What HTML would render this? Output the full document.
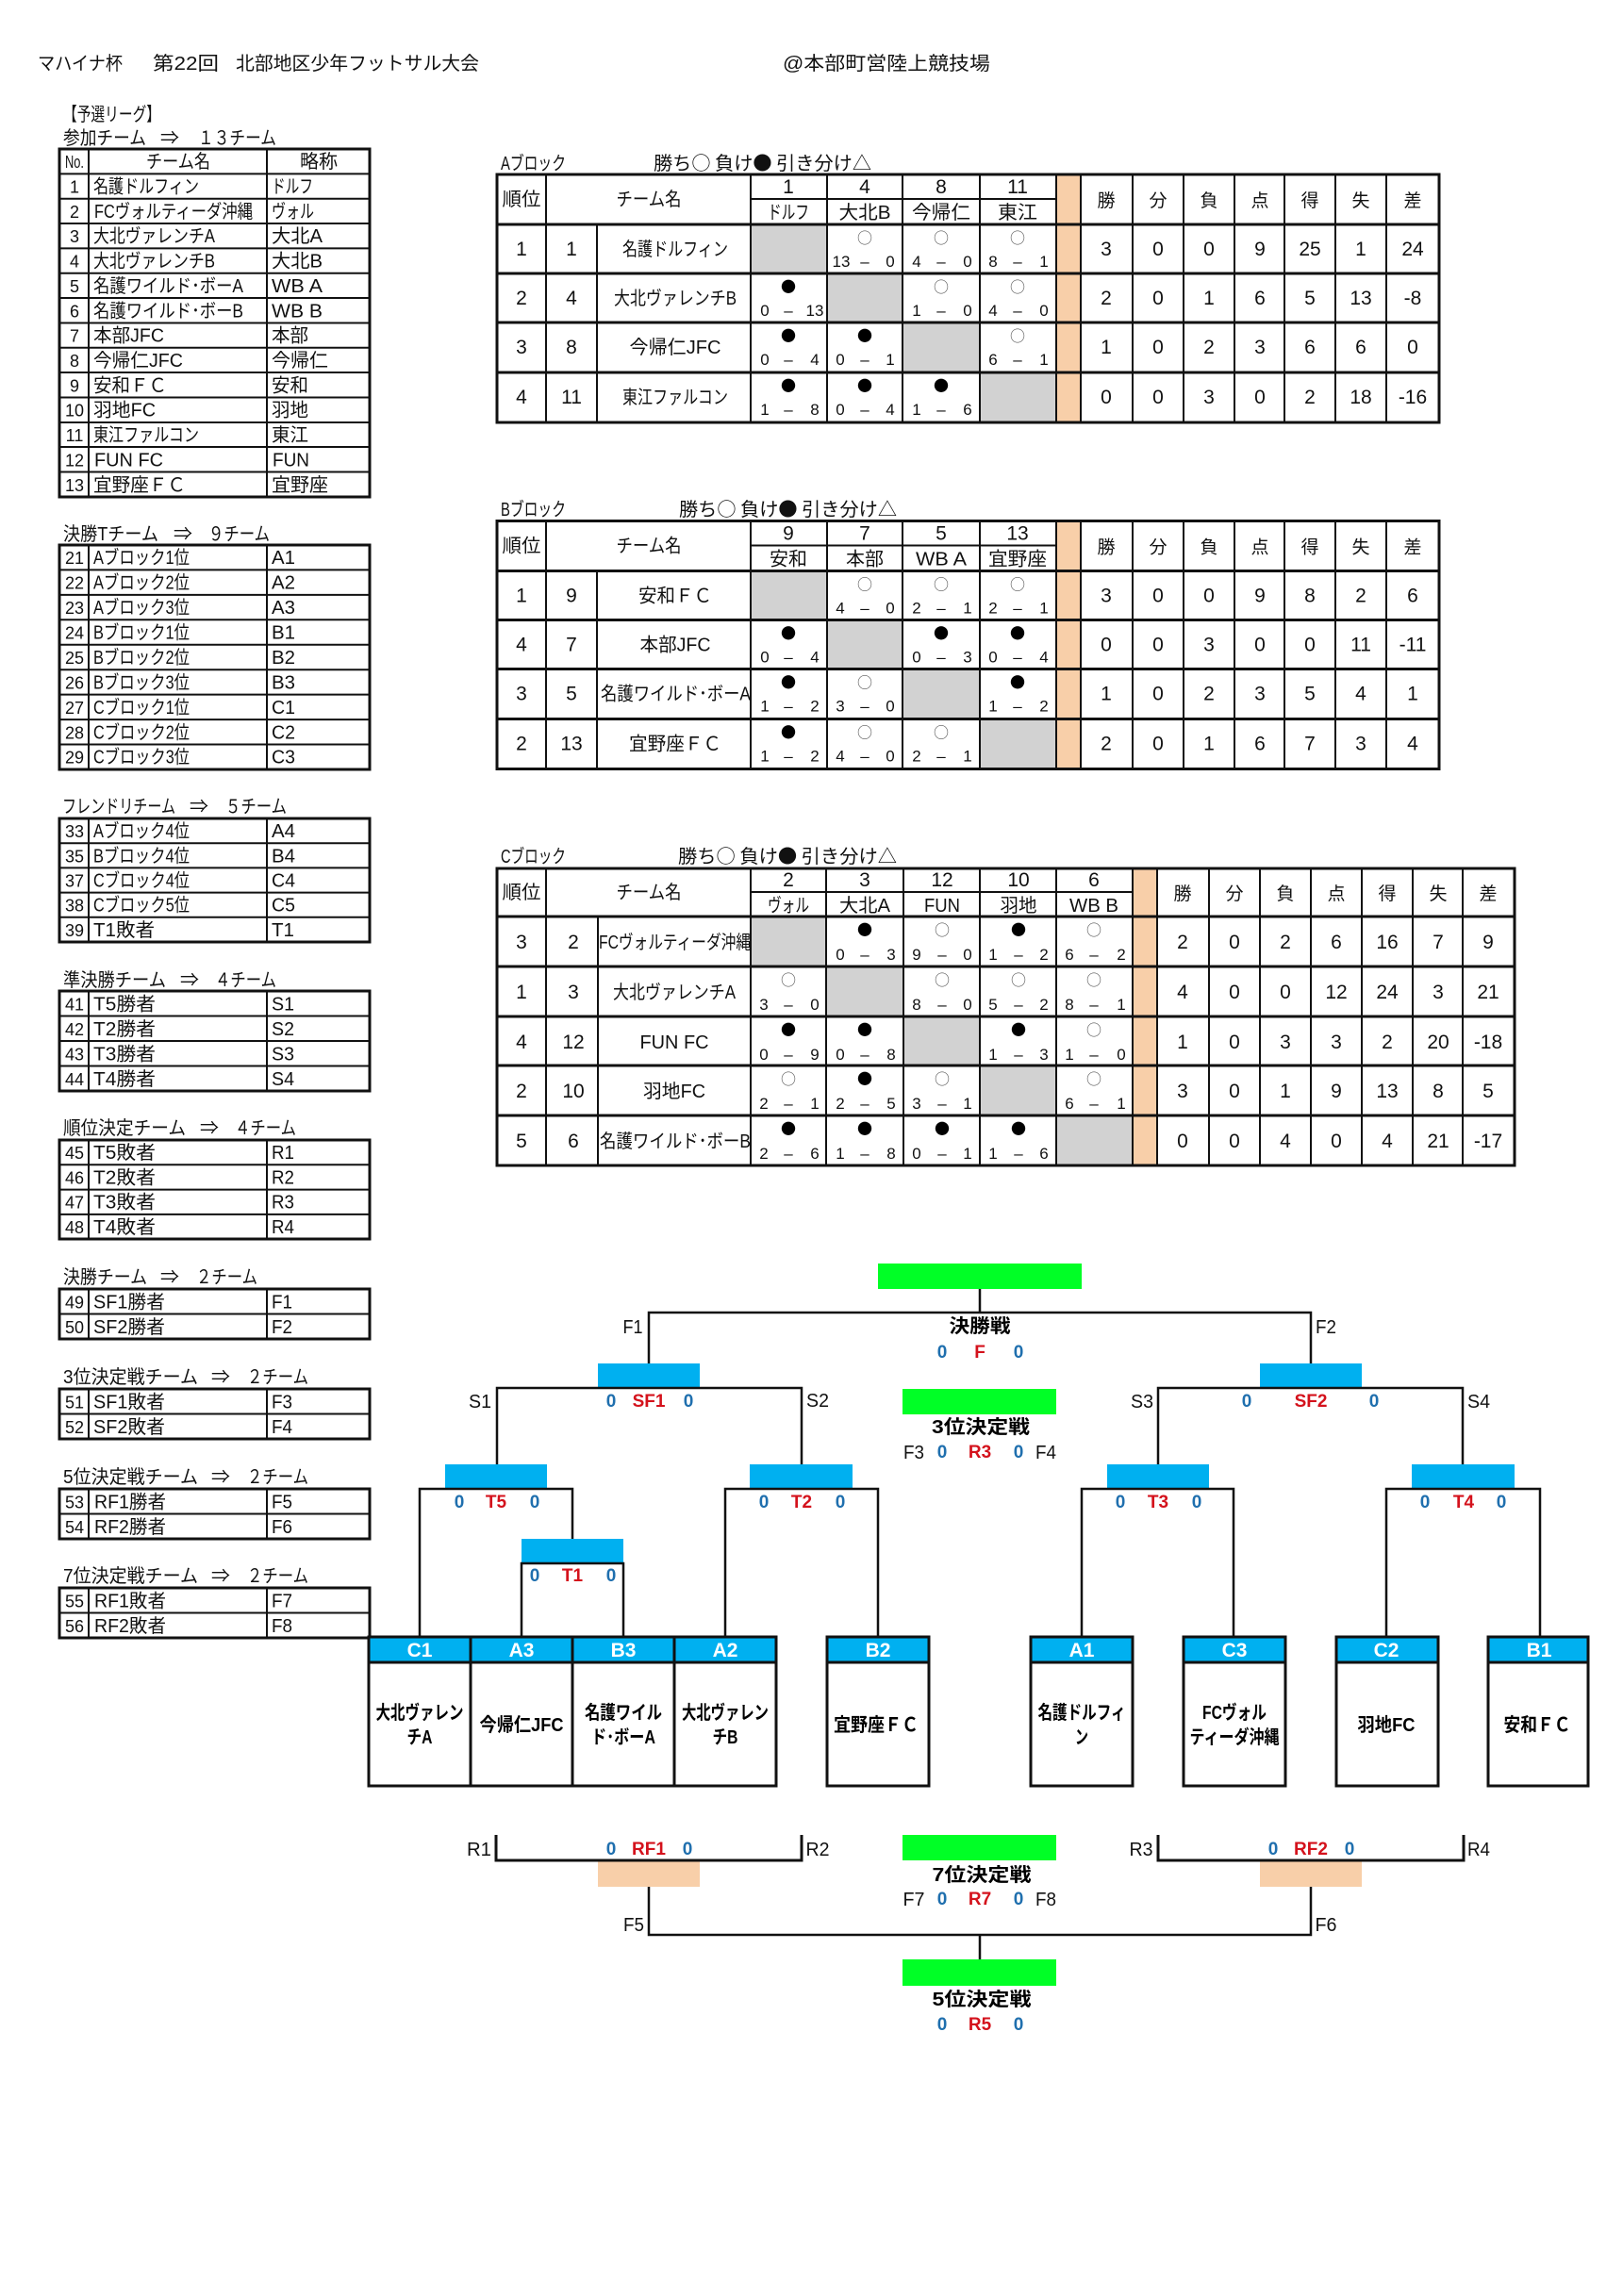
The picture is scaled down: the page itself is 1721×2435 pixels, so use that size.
<!DOCTYPE html>
<html lang="ja"><head><meta charset="utf-8"><title>マハイナ杯</title>
<style>
html,body{margin:0;padding:0;background:#fff}
svg{display:block}
text{font-family:"Liberation Sans","Noto Sans CJK JP",sans-serif;fill:#111;font-size:20px}
.c{text-anchor:middle}
.n{text-anchor:middle;font-size:18px}
.d{text-anchor:middle;font-size:21px}
.s{text-anchor:middle;font-size:17px}
.w{text-anchor:middle;font-size:16px;fill:#555;font-family:"Noto Sans CJK JP",sans-serif}
.l{text-anchor:middle;font-size:16px;fill:#000;font-family:"Noto Sans CJK JP",sans-serif}
.k{font-family:"Noto Sans CJK JP",sans-serif}
.h{text-anchor:middle;font-size:19px}
.z{text-anchor:middle;font-size:19px;font-weight:bold;fill:#1f6fae}
.r{text-anchor:middle;font-size:19px;font-weight:bold;fill:#d4121c}
.j{text-anchor:middle;font-size:20px;font-weight:bold;fill:#000}
.e{text-anchor:middle;font-size:21px;font-weight:bold;fill:#fff}
.o{fill:none;stroke:#111;stroke-width:3}
.i{fill:none;stroke:#111;stroke-width:2}
</style></head><body>
<svg xmlns="http://www.w3.org/2000/svg" width="1721" height="2435" viewBox="0 0 1721 2435">
<rect width="1721" height="2435" fill="#fff"/>

<!-- title -->
<text x="40" y="74" textLength="90" lengthAdjust="spacingAndGlyphs">マハイナ杯</text>
<text x="162" y="74" textLength="70" lengthAdjust="spacingAndGlyphs">第22回</text>
<text x="250" y="74" textLength="258" lengthAdjust="spacingAndGlyphs">北部地区少年フットサル大会</text>
<text x="830" y="74" textLength="220" lengthAdjust="spacingAndGlyphs">@本部町営陸上競技場</text>
<text x="67" y="128" textLength="103" lengthAdjust="spacingAndGlyphs">【予選リーグ】</text>

<!-- left table labels -->
<text x="67" y="153" textLength="88" lengthAdjust="spacingAndGlyphs">参加チーム</text><text x="170" y="153" textLength="20" lengthAdjust="spacingAndGlyphs">⇒</text><text x="210" y="153" textLength="83" lengthAdjust="spacingAndGlyphs">１３チーム</text>
<text x="67" y="573" textLength="101" lengthAdjust="spacingAndGlyphs">決勝Tチーム</text><text x="184" y="573" textLength="20" lengthAdjust="spacingAndGlyphs">⇒</text><text x="221" y="573" textLength="65" lengthAdjust="spacingAndGlyphs">９チーム</text>
<text x="66" y="862" textLength="120" lengthAdjust="spacingAndGlyphs">フレンドリチーム</text><text x="201" y="862" textLength="20" lengthAdjust="spacingAndGlyphs">⇒</text><text x="239" y="862" textLength="65" lengthAdjust="spacingAndGlyphs">５チーム</text>
<text x="67" y="1046" textLength="109" lengthAdjust="spacingAndGlyphs">準決勝チーム</text><text x="191" y="1046" textLength="20" lengthAdjust="spacingAndGlyphs">⇒</text><text x="228" y="1046" textLength="65" lengthAdjust="spacingAndGlyphs">４チーム</text>
<text x="67" y="1203" textLength="130" lengthAdjust="spacingAndGlyphs">順位決定チーム</text><text x="212" y="1203" textLength="20" lengthAdjust="spacingAndGlyphs">⇒</text><text x="249" y="1203" textLength="65" lengthAdjust="spacingAndGlyphs">４チーム</text>
<text x="67" y="1361" textLength="89" lengthAdjust="spacingAndGlyphs">決勝チーム</text><text x="170" y="1361" textLength="20" lengthAdjust="spacingAndGlyphs">⇒</text><text x="208" y="1361" textLength="65" lengthAdjust="spacingAndGlyphs">２チーム</text>
<text x="67" y="1467" textLength="143" lengthAdjust="spacingAndGlyphs">3位決定戦チーム</text><text x="224" y="1467" textLength="20" lengthAdjust="spacingAndGlyphs">⇒</text><text x="262" y="1467" textLength="65" lengthAdjust="spacingAndGlyphs">２チーム</text>
<text x="67" y="1573" textLength="143" lengthAdjust="spacingAndGlyphs">5位決定戦チーム</text><text x="224" y="1573" textLength="20" lengthAdjust="spacingAndGlyphs">⇒</text><text x="262" y="1573" textLength="65" lengthAdjust="spacingAndGlyphs">２チーム</text>
<text x="67" y="1678" textLength="143" lengthAdjust="spacingAndGlyphs">7位決定戦チーム</text><text x="224" y="1678" textLength="20" lengthAdjust="spacingAndGlyphs">⇒</text><text x="262" y="1678" textLength="65" lengthAdjust="spacingAndGlyphs">２チーム</text>

<!-- left table frames -->
<rect class="o" x="63" y="158" width="329" height="369"/>
<path class="i" d="M94 158V527M283 158V527M63 184.4H392M63 210.7H392M63 237H392M63 263.4H392M63 289.8H392M63 316H392M63 342.5H392M63 368.8H392M63 395H392M63 421.5H392M63 448H392M63 474H392M63 500.5H392"/>
<rect class="o" x="63" y="578" width="329" height="238"/>
<path class="i" d="M94 578V816M283 578V816M63 604.4H392M63 630.9H392M63 657.3H392M63 683.8H392M63 710.2H392M63 736.6H392M63 763.1H392M63 789.5H392"/>
<rect class="o" x="63" y="868" width="329" height="131"/>
<path class="i" d="M94 868V999M283 868V999M63 894.2H392M63 920.4H392M63 946.6H392M63 972.8H392"/>
<rect class="o" x="63" y="1051" width="329" height="106"/>
<path class="i" d="M94 1051V1157M283 1051V1157M63 1077.5H392M63 1104H392M63 1130.5H392"/>
<rect class="o" x="63" y="1209" width="329" height="105"/>
<path class="i" d="M94 1209V1314M283 1209V1314M63 1235.3H392M63 1261.6H392M63 1287.9H392"/>
<rect class="o" x="63" y="1367" width="329" height="53"/><path class="i" d="M94 1367V1420M283 1367V1420M63 1393.5H392"/>
<rect class="o" x="63" y="1473" width="329" height="53"/><path class="i" d="M94 1473V1526M283 1473V1526M63 1499.5H392"/>
<rect class="o" x="63" y="1579" width="329" height="53"/><path class="i" d="M94 1579V1632M283 1579V1632M63 1605.5H392"/>
<rect class="o" x="63" y="1684" width="329" height="53"/><path class="i" d="M94 1684V1737M283 1684V1737M63 1710.5H392"/>

<!-- table 1 -->
<text class="n" x="79" y="178" textLength="20" lengthAdjust="spacingAndGlyphs">No.</text><text class="c" x="189" y="178" textLength="68" lengthAdjust="spacingAndGlyphs">チーム名</text><text class="c" x="338" y="178" textLength="40" lengthAdjust="spacingAndGlyphs">略称</text>
<text class="n" x="79" y="204.5">1</text><text x="99" y="204.5" textLength="112" lengthAdjust="spacingAndGlyphs">名護ドルフィン</text><text x="288" y="204.5" textLength="44" lengthAdjust="spacingAndGlyphs">ドルフ</text>
<text class="n" x="79" y="230.9">2</text><text x="100" y="230.9" textLength="168" lengthAdjust="spacingAndGlyphs">FCヴォルティーダ沖縄</text><text x="288" y="230.9" textLength="45" lengthAdjust="spacingAndGlyphs">ヴォル</text>
<text class="n" x="79" y="257.2">3</text><text x="99" y="257.2" textLength="129" lengthAdjust="spacingAndGlyphs">大北ヴァレンチA</text><text x="288" y="257.2" textLength="54" lengthAdjust="spacingAndGlyphs">大北A</text>
<text class="n" x="79" y="283.6">4</text><text x="99" y="283.6" textLength="129" lengthAdjust="spacingAndGlyphs">大北ヴァレンチB</text><text x="288" y="283.6" textLength="54" lengthAdjust="spacingAndGlyphs">大北B</text>
<text class="n" x="79" y="309.9">5</text><text x="99" y="309.9" textLength="159" lengthAdjust="spacingAndGlyphs">名護ワイルド･ボーA</text><text x="288" y="309.9" textLength="54" lengthAdjust="spacingAndGlyphs">WB A</text>
<text class="n" x="79" y="336.3">6</text><text x="99" y="336.3" textLength="159" lengthAdjust="spacingAndGlyphs">名護ワイルド･ボーB</text><text x="288" y="336.3" textLength="54" lengthAdjust="spacingAndGlyphs">WB B</text>
<text class="n" x="79" y="362.7">7</text><text x="99" y="362.7" textLength="75" lengthAdjust="spacingAndGlyphs">本部JFC</text><text x="288" y="362.7" textLength="39" lengthAdjust="spacingAndGlyphs">本部</text>
<text class="n" x="79" y="389">8</text><text x="99" y="389" textLength="95" lengthAdjust="spacingAndGlyphs">今帰仁JFC</text><text x="288" y="389" textLength="60" lengthAdjust="spacingAndGlyphs">今帰仁</text>
<text class="n" x="79" y="415.4">9</text><text x="99" y="415.4" textLength="78" lengthAdjust="spacingAndGlyphs">安和ＦＣ</text><text x="288" y="415.4" textLength="39" lengthAdjust="spacingAndGlyphs">安和</text>
<text class="n" x="79" y="441.7">10</text><text x="99" y="441.7" textLength="66" lengthAdjust="spacingAndGlyphs">羽地FC</text><text x="288" y="441.7" textLength="39" lengthAdjust="spacingAndGlyphs">羽地</text>
<text class="n" x="79" y="468.1">11</text><text x="99" y="468.1" textLength="112" lengthAdjust="spacingAndGlyphs">東江ファルコン</text><text x="288" y="468.1" textLength="39" lengthAdjust="spacingAndGlyphs">東江</text>
<text class="n" x="79" y="494.5">12</text><text x="100" y="494.5" textLength="73" lengthAdjust="spacingAndGlyphs">FUN FC</text><text x="289" y="494.5" textLength="39" lengthAdjust="spacingAndGlyphs">FUN</text>
<text class="n" x="79" y="520.8">13</text><text x="99" y="520.8" textLength="98" lengthAdjust="spacingAndGlyphs">宜野座ＦＣ</text><text x="288" y="520.8" textLength="60" lengthAdjust="spacingAndGlyphs">宜野座</text>

<!-- table 2 -->
<text class="n" x="79" y="598.2">21</text><text x="99" y="598.2" textLength="102" lengthAdjust="spacingAndGlyphs">Aブロック1位</text><text x="288" y="598.2" textLength="25" lengthAdjust="spacingAndGlyphs">A1</text>
<text class="n" x="79" y="624.6">22</text><text x="99" y="624.6" textLength="102" lengthAdjust="spacingAndGlyphs">Aブロック2位</text><text x="288" y="624.6" textLength="25" lengthAdjust="spacingAndGlyphs">A2</text>
<text class="n" x="79" y="651.1">23</text><text x="99" y="651.1" textLength="102" lengthAdjust="spacingAndGlyphs">Aブロック3位</text><text x="288" y="651.1" textLength="25" lengthAdjust="spacingAndGlyphs">A3</text>
<text class="n" x="79" y="677.5">24</text><text x="99" y="677.5" textLength="102" lengthAdjust="spacingAndGlyphs">Bブロック1位</text><text x="288" y="677.5" textLength="25" lengthAdjust="spacingAndGlyphs">B1</text>
<text class="n" x="79" y="704">25</text><text x="99" y="704" textLength="102" lengthAdjust="spacingAndGlyphs">Bブロック2位</text><text x="288" y="704" textLength="25" lengthAdjust="spacingAndGlyphs">B2</text>
<text class="n" x="79" y="730.4">26</text><text x="99" y="730.4" textLength="102" lengthAdjust="spacingAndGlyphs">Bブロック3位</text><text x="288" y="730.4" textLength="25" lengthAdjust="spacingAndGlyphs">B3</text>
<text class="n" x="79" y="756.8">27</text><text x="99" y="756.8" textLength="102" lengthAdjust="spacingAndGlyphs">Cブロック1位</text><text x="288" y="756.8" textLength="25" lengthAdjust="spacingAndGlyphs">C1</text>
<text class="n" x="79" y="783.3">28</text><text x="99" y="783.3" textLength="102" lengthAdjust="spacingAndGlyphs">Cブロック2位</text><text x="288" y="783.3" textLength="25" lengthAdjust="spacingAndGlyphs">C2</text>
<text class="n" x="79" y="809.7">29</text><text x="99" y="809.7" textLength="102" lengthAdjust="spacingAndGlyphs">Cブロック3位</text><text x="288" y="809.7" textLength="25" lengthAdjust="spacingAndGlyphs">C3</text>

<!-- table 3 -->
<text class="n" x="79" y="888.1">33</text><text x="99" y="888.1" textLength="102" lengthAdjust="spacingAndGlyphs">Aブロック4位</text><text x="288" y="888.1" textLength="25" lengthAdjust="spacingAndGlyphs">A4</text>
<text class="n" x="79" y="914.3">35</text><text x="99" y="914.3" textLength="102" lengthAdjust="spacingAndGlyphs">Bブロック4位</text><text x="288" y="914.3" textLength="25" lengthAdjust="spacingAndGlyphs">B4</text>
<text class="n" x="79" y="940.5">37</text><text x="99" y="940.5" textLength="102" lengthAdjust="spacingAndGlyphs">Cブロック4位</text><text x="288" y="940.5" textLength="25" lengthAdjust="spacingAndGlyphs">C4</text>
<text class="n" x="79" y="966.7">38</text><text x="99" y="966.7" textLength="102" lengthAdjust="spacingAndGlyphs">Cブロック5位</text><text x="288" y="966.7" textLength="25" lengthAdjust="spacingAndGlyphs">C5</text>
<text class="n" x="79" y="992.9">39</text><text x="99" y="992.9" textLength="65" lengthAdjust="spacingAndGlyphs">T1敗者</text><text x="288" y="992.9" textLength="24" lengthAdjust="spacingAndGlyphs">T1</text>

<!-- table 4-9 -->
<text class="n" x="79" y="1071.3">41</text><text x="99" y="1071.3" textLength="66" lengthAdjust="spacingAndGlyphs">T5勝者</text><text x="288" y="1071.3" textLength="24" lengthAdjust="spacingAndGlyphs">S1</text>
<text class="n" x="79" y="1097.8">42</text><text x="99" y="1097.8" textLength="66" lengthAdjust="spacingAndGlyphs">T2勝者</text><text x="288" y="1097.8" textLength="24" lengthAdjust="spacingAndGlyphs">S2</text>
<text class="n" x="79" y="1124.3">43</text><text x="99" y="1124.3" textLength="66" lengthAdjust="spacingAndGlyphs">T3勝者</text><text x="288" y="1124.3" textLength="24" lengthAdjust="spacingAndGlyphs">S3</text>
<text class="n" x="79" y="1150.8">44</text><text x="99" y="1150.8" textLength="66" lengthAdjust="spacingAndGlyphs">T4勝者</text><text x="288" y="1150.8" textLength="24" lengthAdjust="spacingAndGlyphs">S4</text>
<text class="n" x="79" y="1229.1">45</text><text x="99" y="1229.1" textLength="66" lengthAdjust="spacingAndGlyphs">T5敗者</text><text x="288" y="1229.1" textLength="24" lengthAdjust="spacingAndGlyphs">R1</text>
<text class="n" x="79" y="1255.4">46</text><text x="99" y="1255.4" textLength="66" lengthAdjust="spacingAndGlyphs">T2敗者</text><text x="288" y="1255.4" textLength="24" lengthAdjust="spacingAndGlyphs">R2</text>
<text class="n" x="79" y="1281.7">47</text><text x="99" y="1281.7" textLength="66" lengthAdjust="spacingAndGlyphs">T3敗者</text><text x="288" y="1281.7" textLength="24" lengthAdjust="spacingAndGlyphs">R3</text>
<text class="n" x="79" y="1308">48</text><text x="99" y="1308" textLength="66" lengthAdjust="spacingAndGlyphs">T4敗者</text><text x="288" y="1308" textLength="24" lengthAdjust="spacingAndGlyphs">R4</text>
<text class="n" x="79" y="1387.3">49</text><text x="99" y="1387.3" textLength="76" lengthAdjust="spacingAndGlyphs">SF1勝者</text><text x="288" y="1387.3" textLength="22" lengthAdjust="spacingAndGlyphs">F1</text>
<text class="n" x="79" y="1413.8">50</text><text x="99" y="1413.8" textLength="76" lengthAdjust="spacingAndGlyphs">SF2勝者</text><text x="288" y="1413.8" textLength="22" lengthAdjust="spacingAndGlyphs">F2</text>
<text class="n" x="79" y="1493.3">51</text><text x="99" y="1493.3" textLength="76" lengthAdjust="spacingAndGlyphs">SF1敗者</text><text x="288" y="1493.3" textLength="22" lengthAdjust="spacingAndGlyphs">F3</text>
<text class="n" x="79" y="1519.8">52</text><text x="99" y="1519.8" textLength="76" lengthAdjust="spacingAndGlyphs">SF2敗者</text><text x="288" y="1519.8" textLength="22" lengthAdjust="spacingAndGlyphs">F4</text>
<text class="n" x="79" y="1599.3">53</text><text x="100" y="1599.3" textLength="76" lengthAdjust="spacingAndGlyphs">RF1勝者</text><text x="288" y="1599.3" textLength="22" lengthAdjust="spacingAndGlyphs">F5</text>
<text class="n" x="79" y="1625.8">54</text><text x="100" y="1625.8" textLength="76" lengthAdjust="spacingAndGlyphs">RF2勝者</text><text x="288" y="1625.8" textLength="22" lengthAdjust="spacingAndGlyphs">F6</text>
<text class="n" x="79" y="1704.3">55</text><text x="100" y="1704.3" textLength="76" lengthAdjust="spacingAndGlyphs">RF1敗者</text><text x="288" y="1704.3" textLength="22" lengthAdjust="spacingAndGlyphs">F7</text>
<text class="n" x="79" y="1730.8">56</text><text x="100" y="1730.8" textLength="76" lengthAdjust="spacingAndGlyphs">RF2敗者</text><text x="288" y="1730.8" textLength="22" lengthAdjust="spacingAndGlyphs">F8</text>

<!-- BLOCK A -->
<text x="531" y="180" textLength="69" lengthAdjust="spacingAndGlyphs">Aブロック</text>
<text class="k" x="693" y="180" textLength="231" lengthAdjust="spacingAndGlyphs">勝ち○ 負け● 引き分け△</text>
<rect x="1120" y="185" width="26" height="263" fill="#f8cfa9"/>
<rect x="796" y="238" width="81" height="52" fill="#d2d2d2"/><rect x="877" y="290" width="80" height="52" fill="#d2d2d2"/><rect x="957" y="342" width="82" height="53" fill="#d2d2d2"/><rect x="1039" y="395" width="81" height="53" fill="#d2d2d2"/>
<rect class="o" x="527" y="185" width="999" height="263"/>
<path class="i" d="M579 185V448M796 185V448M877 185V448M957 185V448M1039 185V448M1120 185V448M1146 185V448M1201 185V448M1255 185V448M1309 185V448M1362 185V448M1416 185V448M1470 185V448M633 238V448M796 211H1120"/>
<path class="o" d="M527 238H1526M527 290H1526M527 342H1526M527 395H1526" stroke-width="2.5"/>
<text class="c" x="553" y="218" textLength="41" lengthAdjust="spacingAndGlyphs">順位</text><text class="c" x="688" y="218" textLength="69" lengthAdjust="spacingAndGlyphs">チーム名</text>
<text class="h" x="1173" y="219">勝</text><text class="h" x="1228" y="219">分</text><text class="h" x="1282" y="219">負</text><text class="h" x="1336" y="219">点</text><text class="h" x="1389" y="219">得</text><text class="h" x="1443" y="219">失</text><text class="h" x="1498" y="219">差</text>
<text class="d" x="836" y="205">1</text><text class="d" x="917" y="205">4</text><text class="d" x="998" y="205">8</text><text class="d" x="1079" y="205">11</text>
<text class="c" x="836" y="232" textLength="44" lengthAdjust="spacingAndGlyphs">ドルフ</text><text class="c" x="917" y="232" textLength="55" lengthAdjust="spacingAndGlyphs">大北B</text><text class="c" x="998" y="232" textLength="62" lengthAdjust="spacingAndGlyphs">今帰仁</text><text class="c" x="1079" y="232" textLength="42" lengthAdjust="spacingAndGlyphs">東江</text>
<!-- A row1 -->
<g transform="translate(0,238)"><text class="d" x="553" y="33">1</text><text class="d" x="606" y="33">1</text><text class="c" x="716" y="33" textLength="112" lengthAdjust="spacingAndGlyphs">名護ドルフィン</text><text class="d" x="1173" y="33">3</text><text class="d" x="1228" y="33">0</text><text class="d" x="1282" y="33">0</text><text class="d" x="1336" y="33">9</text><text class="d" x="1389" y="33">25</text><text class="d" x="1443" y="33">1</text><text class="d" x="1498" y="33">24</text>
<text class="w" x="917" y="20">○</text><text class="s" x="892" y="45">13</text><text class="s" x="917" y="45">–</text><text class="s" x="944" y="45">0</text>
<text class="w" x="998" y="20">○</text><text class="s" x="972" y="45">4</text><text class="s" x="998" y="45">–</text><text class="s" x="1026" y="45">0</text>
<text class="w" x="1079" y="20">○</text><text class="s" x="1053" y="45">8</text><text class="s" x="1079" y="45">–</text><text class="s" x="1107" y="45">1</text></g>
<!-- A row2 -->
<g transform="translate(0,290)"><text class="d" x="553" y="33">2</text><text class="d" x="606" y="33">4</text><text class="c" x="716" y="33" textLength="130" lengthAdjust="spacingAndGlyphs">大北ヴァレンチB</text><text class="d" x="1173" y="33">2</text><text class="d" x="1228" y="33">0</text><text class="d" x="1282" y="33">1</text><text class="d" x="1336" y="33">6</text><text class="d" x="1389" y="33">5</text><text class="d" x="1443" y="33">13</text><text class="d" x="1498" y="33">-8</text>
<text class="l" x="836" y="20">●</text><text class="s" x="811" y="45">0</text><text class="s" x="836" y="45">–</text><text class="s" x="864" y="45">13</text>
<text class="w" x="998" y="20">○</text><text class="s" x="972" y="45">1</text><text class="s" x="998" y="45">–</text><text class="s" x="1026" y="45">0</text>
<text class="w" x="1079" y="20">○</text><text class="s" x="1053" y="45">4</text><text class="s" x="1079" y="45">–</text><text class="s" x="1107" y="45">0</text></g>
<!-- A row3 -->
<g transform="translate(0,342)"><text class="d" x="553" y="33">3</text><text class="d" x="606" y="33">8</text><text class="c" x="716" y="33" textLength="97" lengthAdjust="spacingAndGlyphs">今帰仁JFC</text><text class="d" x="1173" y="33">1</text><text class="d" x="1228" y="33">0</text><text class="d" x="1282" y="33">2</text><text class="d" x="1336" y="33">3</text><text class="d" x="1389" y="33">6</text><text class="d" x="1443" y="33">6</text><text class="d" x="1498" y="33">0</text>
<text class="l" x="836" y="20">●</text><text class="s" x="811" y="45">0</text><text class="s" x="836" y="45">–</text><text class="s" x="864" y="45">4</text>
<text class="l" x="917" y="20">●</text><text class="s" x="891" y="45">0</text><text class="s" x="917" y="45">–</text><text class="s" x="944" y="45">1</text>
<text class="w" x="1079" y="20">○</text><text class="s" x="1053" y="45">6</text><text class="s" x="1079" y="45">–</text><text class="s" x="1107" y="45">1</text></g>
<!-- A row4 -->
<g transform="translate(0,395)"><text class="d" x="553" y="33">4</text><text class="d" x="606" y="33">11</text><text class="c" x="716" y="33" textLength="112" lengthAdjust="spacingAndGlyphs">東江ファルコン</text><text class="d" x="1173" y="33">0</text><text class="d" x="1228" y="33">0</text><text class="d" x="1282" y="33">3</text><text class="d" x="1336" y="33">0</text><text class="d" x="1389" y="33">2</text><text class="d" x="1443" y="33">18</text><text class="d" x="1498" y="33">-16</text>
<text class="l" x="836" y="20">●</text><text class="s" x="811" y="45">1</text><text class="s" x="836" y="45">–</text><text class="s" x="864" y="45">8</text>
<text class="l" x="917" y="20">●</text><text class="s" x="891" y="45">0</text><text class="s" x="917" y="45">–</text><text class="s" x="944" y="45">4</text>
<text class="l" x="998" y="20">●</text><text class="s" x="972" y="45">1</text><text class="s" x="998" y="45">–</text><text class="s" x="1026" y="45">6</text></g>

<!-- BLOCK B -->
<text x="531" y="547" textLength="69" lengthAdjust="spacingAndGlyphs">Bブロック</text>
<text class="k" x="720" y="547" textLength="231" lengthAdjust="spacingAndGlyphs">勝ち○ 負け● 引き分け△</text>
<g transform="translate(0,367.5)">
<rect x="1120" y="185" width="26" height="263" fill="#f8cfa9"/>
<rect x="796" y="238" width="81" height="52" fill="#d2d2d2"/><rect x="877" y="290" width="80" height="52" fill="#d2d2d2"/><rect x="957" y="342" width="82" height="53" fill="#d2d2d2"/><rect x="1039" y="395" width="81" height="53" fill="#d2d2d2"/>
<rect class="o" x="527" y="185" width="999" height="263"/>
<path class="i" d="M579 185V448M796 185V448M877 185V448M957 185V448M1039 185V448M1120 185V448M1146 185V448M1201 185V448M1255 185V448M1309 185V448M1362 185V448M1416 185V448M1470 185V448M633 238V448M796 211H1120"/>
<path class="o" d="M527 238H1526M527 290H1526M527 342H1526M527 395H1526" stroke-width="2.5"/>
<text class="c" x="553" y="218" textLength="41" lengthAdjust="spacingAndGlyphs">順位</text><text class="c" x="688" y="218" textLength="69" lengthAdjust="spacingAndGlyphs">チーム名</text>
<text class="h" x="1173" y="219">勝</text><text class="h" x="1228" y="219">分</text><text class="h" x="1282" y="219">負</text><text class="h" x="1336" y="219">点</text><text class="h" x="1389" y="219">得</text><text class="h" x="1443" y="219">失</text><text class="h" x="1498" y="219">差</text>
<text class="d" x="836" y="205">9</text><text class="d" x="917" y="205">7</text><text class="d" x="998" y="205">5</text><text class="d" x="1079" y="205">13</text>
<text class="c" x="836" y="232" textLength="40" lengthAdjust="spacingAndGlyphs">安和</text><text class="c" x="917" y="232" textLength="40" lengthAdjust="spacingAndGlyphs">本部</text><text class="c" x="998" y="232" textLength="54" lengthAdjust="spacingAndGlyphs">WB A</text><text class="c" x="1079" y="232" textLength="62" lengthAdjust="spacingAndGlyphs">宜野座</text>
<g transform="translate(0,238)"><text class="d" x="553" y="33">1</text><text class="d" x="606" y="33">9</text><text class="c" x="716" y="33" textLength="78" lengthAdjust="spacingAndGlyphs">安和ＦＣ</text><text class="d" x="1173" y="33">3</text><text class="d" x="1228" y="33">0</text><text class="d" x="1282" y="33">0</text><text class="d" x="1336" y="33">9</text><text class="d" x="1389" y="33">8</text><text class="d" x="1443" y="33">2</text><text class="d" x="1498" y="33">6</text>
<text class="w" x="917" y="20">○</text><text class="s" x="891" y="45">4</text><text class="s" x="917" y="45">–</text><text class="s" x="944" y="45">0</text>
<text class="w" x="998" y="20">○</text><text class="s" x="972" y="45">2</text><text class="s" x="998" y="45">–</text><text class="s" x="1026" y="45">1</text>
<text class="w" x="1079" y="20">○</text><text class="s" x="1053" y="45">2</text><text class="s" x="1079" y="45">–</text><text class="s" x="1107" y="45">1</text></g>
<g transform="translate(0,290)"><text class="d" x="553" y="33">4</text><text class="d" x="606" y="33">7</text><text class="c" x="716" y="33" textLength="75" lengthAdjust="spacingAndGlyphs">本部JFC</text><text class="d" x="1173" y="33">0</text><text class="d" x="1228" y="33">0</text><text class="d" x="1282" y="33">3</text><text class="d" x="1336" y="33">0</text><text class="d" x="1389" y="33">0</text><text class="d" x="1443" y="33">11</text><text class="d" x="1498" y="33">-11</text>
<text class="l" x="836" y="20">●</text><text class="s" x="811" y="45">0</text><text class="s" x="836" y="45">–</text><text class="s" x="864" y="45">4</text>
<text class="l" x="998" y="20">●</text><text class="s" x="972" y="45">0</text><text class="s" x="998" y="45">–</text><text class="s" x="1026" y="45">3</text>
<text class="l" x="1079" y="20">●</text><text class="s" x="1053" y="45">0</text><text class="s" x="1079" y="45">–</text><text class="s" x="1107" y="45">4</text></g>
<g transform="translate(0,342)"><text class="d" x="553" y="33">3</text><text class="d" x="606" y="33">5</text><text x="637" y="33" textLength="159" lengthAdjust="spacingAndGlyphs">名護ワイルド･ボーA</text><text class="d" x="1173" y="33">1</text><text class="d" x="1228" y="33">0</text><text class="d" x="1282" y="33">2</text><text class="d" x="1336" y="33">3</text><text class="d" x="1389" y="33">5</text><text class="d" x="1443" y="33">4</text><text class="d" x="1498" y="33">1</text>
<text class="l" x="836" y="20">●</text><text class="s" x="811" y="45">1</text><text class="s" x="836" y="45">–</text><text class="s" x="864" y="45">2</text>
<text class="w" x="917" y="20">○</text><text class="s" x="891" y="45">3</text><text class="s" x="917" y="45">–</text><text class="s" x="944" y="45">0</text>
<text class="l" x="1079" y="20">●</text><text class="s" x="1053" y="45">1</text><text class="s" x="1079" y="45">–</text><text class="s" x="1107" y="45">2</text></g>
<g transform="translate(0,395)"><text class="d" x="553" y="33">2</text><text class="d" x="606" y="33">13</text><text class="c" x="716" y="33" textLength="98" lengthAdjust="spacingAndGlyphs">宜野座ＦＣ</text><text class="d" x="1173" y="33">2</text><text class="d" x="1228" y="33">0</text><text class="d" x="1282" y="33">1</text><text class="d" x="1336" y="33">6</text><text class="d" x="1389" y="33">7</text><text class="d" x="1443" y="33">3</text><text class="d" x="1498" y="33">4</text>
<text class="l" x="836" y="20">●</text><text class="s" x="811" y="45">1</text><text class="s" x="836" y="45">–</text><text class="s" x="864" y="45">2</text>
<text class="w" x="917" y="20">○</text><text class="s" x="891" y="45">4</text><text class="s" x="917" y="45">–</text><text class="s" x="944" y="45">0</text>
<text class="w" x="998" y="20">○</text><text class="s" x="972" y="45">2</text><text class="s" x="998" y="45">–</text><text class="s" x="1026" y="45">1</text></g>
</g>

<!-- BLOCK C -->
<text x="531" y="915" textLength="69" lengthAdjust="spacingAndGlyphs">Cブロック</text>
<text class="k" x="719" y="915" textLength="232" lengthAdjust="spacingAndGlyphs">勝ち○ 負け● 引き分け△</text>
<rect x="1201" y="921" width="26" height="315" fill="#f8cfa9"/>
<rect x="796" y="972" width="80" height="53" fill="#d2d2d2"/><rect x="876" y="1025" width="82" height="53" fill="#d2d2d2"/><rect x="958" y="1078" width="81" height="52" fill="#d2d2d2"/><rect x="1039" y="1130" width="81" height="53" fill="#d2d2d2"/><rect x="1120" y="1183" width="81" height="53" fill="#d2d2d2"/>
<rect class="o" x="527" y="921" width="1079" height="315"/>
<path class="i" d="M579 921V1236M796 921V1236M876 921V1236M958 921V1236M1039 921V1236M1120 921V1236M1201 921V1236M1227 921V1236M1282 921V1236M1336 921V1236M1390 921V1236M1444 921V1236M1498 921V1236M1551 921V1236M634 972V1236M796 946H1201"/>
<path class="o" stroke-width="2.5" d="M527 972H1606M527 1025H1606M527 1078H1606M527 1130H1606M527 1183H1606"/>
<text class="c" x="553" y="953" textLength="41" lengthAdjust="spacingAndGlyphs">順位</text><text class="c" x="688" y="953" textLength="69" lengthAdjust="spacingAndGlyphs">チーム名</text>
<text class="h" x="1254" y="954">勝</text><text class="h" x="1309" y="954">分</text><text class="h" x="1363" y="954">負</text><text class="h" x="1417" y="954">点</text><text class="h" x="1471" y="954">得</text><text class="h" x="1525" y="954">失</text><text class="h" x="1578" y="954">差</text>
<text class="d" x="836" y="940">2</text><text class="d" x="917" y="940">3</text><text class="d" x="999" y="940">12</text><text class="d" x="1080" y="940">10</text><text class="d" x="1160" y="940">6</text>
<text class="c" x="836" y="967" textLength="44" lengthAdjust="spacingAndGlyphs">ヴォル</text><text class="c" x="917" y="967" textLength="54" lengthAdjust="spacingAndGlyphs">大北A</text><text class="c" x="999" y="967" textLength="38" lengthAdjust="spacingAndGlyphs">FUN</text><text class="c" x="1080" y="967" textLength="39" lengthAdjust="spacingAndGlyphs">羽地</text><text class="c" x="1160" y="967" textLength="52" lengthAdjust="spacingAndGlyphs">WB B</text>

<g transform="translate(0,972)"><text class="d" x="553" y="34">3</text><text class="d" x="608" y="34">2</text><text x="635" y="34" textLength="161" lengthAdjust="spacingAndGlyphs">FCヴォルティーダ沖縄</text><text class="d" x="1254" y="34">2</text><text class="d" x="1309" y="34">0</text><text class="d" x="1363" y="34">2</text><text class="d" x="1417" y="34">6</text><text class="d" x="1471" y="34">16</text><text class="d" x="1525" y="34">7</text><text class="d" x="1578" y="34">9</text>
<text class="l" x="917" y="20">●</text><text class="s" x="891" y="46">0</text><text class="s" x="917" y="46">–</text><text class="s" x="945" y="46">3</text>
<text class="w" x="999" y="20">○</text><text class="s" x="972" y="46">9</text><text class="s" x="999" y="46">–</text><text class="s" x="1026" y="46">0</text>
<text class="l" x="1080" y="20">●</text><text class="s" x="1053" y="46">1</text><text class="s" x="1080" y="46">–</text><text class="s" x="1107" y="46">2</text>
<text class="w" x="1160" y="20">○</text><text class="s" x="1134" y="46">6</text><text class="s" x="1160" y="46">–</text><text class="s" x="1189" y="46">2</text></g>

<g transform="translate(0,1025)"><text class="d" x="553" y="34">1</text><text class="d" x="608" y="34">3</text><text class="c" x="715" y="34" textLength="130" lengthAdjust="spacingAndGlyphs">大北ヴァレンチA</text><text class="d" x="1254" y="34">4</text><text class="d" x="1309" y="34">0</text><text class="d" x="1363" y="34">0</text><text class="d" x="1417" y="34">12</text><text class="d" x="1471" y="34">24</text><text class="d" x="1525" y="34">3</text><text class="d" x="1578" y="34">21</text>
<text class="w" x="836" y="20">○</text><text class="s" x="810" y="46">3</text><text class="s" x="836" y="46">–</text><text class="s" x="864" y="46">0</text>
<text class="w" x="999" y="20">○</text><text class="s" x="972" y="46">8</text><text class="s" x="999" y="46">–</text><text class="s" x="1026" y="46">0</text>
<text class="w" x="1080" y="20">○</text><text class="s" x="1053" y="46">5</text><text class="s" x="1080" y="46">–</text><text class="s" x="1107" y="46">2</text>
<text class="w" x="1160" y="20">○</text><text class="s" x="1134" y="46">8</text><text class="s" x="1160" y="46">–</text><text class="s" x="1189" y="46">1</text></g>

<g transform="translate(0,1078)"><text class="d" x="553" y="34">4</text><text class="d" x="608" y="34">12</text><text class="c" x="715" y="34" textLength="73" lengthAdjust="spacingAndGlyphs">FUN FC</text><text class="d" x="1254" y="34">1</text><text class="d" x="1309" y="34">0</text><text class="d" x="1363" y="34">3</text><text class="d" x="1417" y="34">3</text><text class="d" x="1471" y="34">2</text><text class="d" x="1525" y="34">20</text><text class="d" x="1578" y="34">-18</text>
<text class="l" x="836" y="20">●</text><text class="s" x="810" y="46">0</text><text class="s" x="836" y="46">–</text><text class="s" x="864" y="46">9</text>
<text class="l" x="917" y="20">●</text><text class="s" x="891" y="46">0</text><text class="s" x="917" y="46">–</text><text class="s" x="945" y="46">8</text>
<text class="l" x="1080" y="20">●</text><text class="s" x="1053" y="46">1</text><text class="s" x="1080" y="46">–</text><text class="s" x="1107" y="46">3</text>
<text class="w" x="1160" y="20">○</text><text class="s" x="1134" y="46">1</text><text class="s" x="1160" y="46">–</text><text class="s" x="1189" y="46">0</text></g>

<g transform="translate(0,1130)"><text class="d" x="553" y="34">2</text><text class="d" x="608" y="34">10</text><text class="c" x="715" y="34" textLength="66" lengthAdjust="spacingAndGlyphs">羽地FC</text><text class="d" x="1254" y="34">3</text><text class="d" x="1309" y="34">0</text><text class="d" x="1363" y="34">1</text><text class="d" x="1417" y="34">9</text><text class="d" x="1471" y="34">13</text><text class="d" x="1525" y="34">8</text><text class="d" x="1578" y="34">5</text>
<text class="w" x="836" y="20">○</text><text class="s" x="810" y="46">2</text><text class="s" x="836" y="46">–</text><text class="s" x="864" y="46">1</text>
<text class="l" x="917" y="20">●</text><text class="s" x="891" y="46">2</text><text class="s" x="917" y="46">–</text><text class="s" x="945" y="46">5</text>
<text class="w" x="999" y="20">○</text><text class="s" x="972" y="46">3</text><text class="s" x="999" y="46">–</text><text class="s" x="1026" y="46">1</text>
<text class="w" x="1160" y="20">○</text><text class="s" x="1134" y="46">6</text><text class="s" x="1160" y="46">–</text><text class="s" x="1189" y="46">1</text></g>

<g transform="translate(0,1183)"><text class="d" x="553" y="34">5</text><text class="d" x="608" y="34">6</text><text x="636" y="34" textLength="160" lengthAdjust="spacingAndGlyphs">名護ワイルド･ボーB</text><text class="d" x="1254" y="34">0</text><text class="d" x="1309" y="34">0</text><text class="d" x="1363" y="34">4</text><text class="d" x="1417" y="34">0</text><text class="d" x="1471" y="34">4</text><text class="d" x="1525" y="34">21</text><text class="d" x="1578" y="34">-17</text>
<text class="l" x="836" y="20">●</text><text class="s" x="810" y="46">2</text><text class="s" x="836" y="46">–</text><text class="s" x="864" y="46">6</text>
<text class="l" x="917" y="20">●</text><text class="s" x="891" y="46">1</text><text class="s" x="917" y="46">–</text><text class="s" x="945" y="46">8</text>
<text class="l" x="999" y="20">●</text><text class="s" x="972" y="46">0</text><text class="s" x="999" y="46">–</text><text class="s" x="1026" y="46">1</text>
<text class="l" x="1080" y="20">●</text><text class="s" x="1053" y="46">1</text><text class="s" x="1080" y="46">–</text><text class="s" x="1107" y="46">6</text></g>

<!-- BRACKET fills -->
<rect x="931" y="1340" width="216" height="27" fill="#00ff26"/>
<rect x="957" y="1473" width="163" height="27" fill="#00ff26"/>
<rect x="957" y="1946" width="163" height="27" fill="#00ff26"/>
<rect x="957" y="2078" width="163" height="28" fill="#00ff26"/>
<rect x="634" y="1446" width="108" height="26" fill="#00b0f0"/>
<rect x="1336" y="1446" width="108" height="26" fill="#00b0f0"/>
<rect x="472" y="1553" width="108" height="25" fill="#00b0f0"/>
<rect x="795" y="1553" width="109" height="25" fill="#00b0f0"/>
<rect x="1174" y="1553" width="108" height="25" fill="#00b0f0"/>
<rect x="1497" y="1553" width="109" height="25" fill="#00b0f0"/>
<rect x="553" y="1632" width="108" height="25" fill="#00b0f0"/>
<rect x="634" y="1974" width="108" height="27" fill="#f8cfa9"/>
<rect x="1336" y="1974" width="108" height="27" fill="#f8cfa9"/>

<!-- BRACKET lines -->
<path fill="none" stroke="#111" stroke-width="2.5" d="M1039 1367V1392M688 1446V1392H1390V1446M527 1553V1472H850V1553M1228 1553V1472H1551V1553M445 1736V1579H607V1632M769 1736V1579H931V1736M1147 1736V1579H1308V1736M1470 1736V1579H1633V1736M553 1736V1658H661V1736"/>
<path fill="none" stroke="#111" stroke-width="3" d="M526 1946V1973H850V1946M1228 1946V1973H1552V1946"/>
<path fill="none" stroke="#111" stroke-width="2.5" d="M688 2001V2052H1390V2001M1039 2052V2078"/>

<!-- team boxes -->
<rect x="391" y="1736" width="432" height="27" fill="#00b0f0"/>
<rect x="877" y="1736" width="108" height="27" fill="#00b0f0"/>
<rect x="1093" y="1736" width="108" height="27" fill="#00b0f0"/>
<rect x="1255" y="1736" width="108" height="27" fill="#00b0f0"/>
<rect x="1417" y="1736" width="108" height="27" fill="#00b0f0"/>
<rect x="1578" y="1736" width="106" height="27" fill="#00b0f0"/>
<path class="o" d="M391 1736H823V1894H391ZM499 1736V1894M607 1736V1894M715 1736V1894M391 1763H823M877 1736H985V1894H877ZM877 1763H985M1093 1736H1201V1894H1093ZM1093 1763H1201M1255 1736H1363V1894H1255ZM1255 1763H1363M1417 1736H1525V1894H1417ZM1417 1763H1525M1578 1736H1684V1894H1578ZM1578 1763H1684"/>
<text class="e" x="445" y="1757">C1</text><text class="e" x="553" y="1757">A3</text><text class="e" x="661" y="1757">B3</text><text class="e" x="769" y="1757">A2</text><text class="e" x="931" y="1757">B2</text><text class="e" x="1147" y="1757">A1</text><text class="e" x="1309" y="1757">C3</text><text class="e" x="1470" y="1757">C2</text><text class="e" x="1632" y="1757">B1</text>
<text class="j" x="445" y="1823" textLength="93" lengthAdjust="spacingAndGlyphs">大北ヴァレン</text><text class="j" x="445" y="1849" textLength="27" lengthAdjust="spacingAndGlyphs">チA</text>
<text class="j" x="553" y="1836" textLength="89" lengthAdjust="spacingAndGlyphs">今帰仁JFC</text>
<text class="j" x="661" y="1823" textLength="82" lengthAdjust="spacingAndGlyphs">名護ワイル</text><text class="j" x="661" y="1849" textLength="68" lengthAdjust="spacingAndGlyphs">ド･ボーA</text>
<text class="j" x="769" y="1823" textLength="92" lengthAdjust="spacingAndGlyphs">大北ヴァレン</text><text class="j" x="769" y="1849" textLength="27" lengthAdjust="spacingAndGlyphs">チB</text>
<text class="j" x="929" y="1836" textLength="90" lengthAdjust="spacingAndGlyphs">宜野座ＦＣ</text>
<text class="j" x="1147" y="1823" textLength="93" lengthAdjust="spacingAndGlyphs">名護ドルフィ</text><text class="j" x="1147" y="1849" textLength="14" lengthAdjust="spacingAndGlyphs">ン</text>
<text class="j" x="1309" y="1823" textLength="68" lengthAdjust="spacingAndGlyphs">FCヴォル</text><text class="j" x="1309" y="1849" textLength="95" lengthAdjust="spacingAndGlyphs">ティーダ沖縄</text>
<text class="j" x="1470" y="1836" textLength="61" lengthAdjust="spacingAndGlyphs">羽地FC</text>
<text class="j" x="1630" y="1836" textLength="71" lengthAdjust="spacingAndGlyphs">安和ＦＣ</text>

<!-- bracket labels -->
<text class="c" x="671" y="1414" textLength="21" lengthAdjust="spacingAndGlyphs">F1</text><text class="c" x="1406" y="1414" textLength="22" lengthAdjust="spacingAndGlyphs">F2</text>
<text class="c" x="509" y="1493" textLength="24" lengthAdjust="spacingAndGlyphs">S1</text><text class="c" x="867" y="1492" textLength="24" lengthAdjust="spacingAndGlyphs">S2</text>
<text class="c" x="1211" y="1493" textLength="24" lengthAdjust="spacingAndGlyphs">S3</text><text class="c" x="1568" y="1493" textLength="24" lengthAdjust="spacingAndGlyphs">S4</text>

<text class="j" x="1039" y="1413" textLength="65" lengthAdjust="spacingAndGlyphs">決勝戦</text>
<text class="z" x="999" y="1440">0</text><text class="r" x="1039" y="1440">F</text><text class="z" x="1080" y="1440">0</text>
<text class="j" x="1040" y="1520" textLength="104" lengthAdjust="spacingAndGlyphs">3位決定戦</text>
<text class="c" x="969" y="1547" textLength="22" lengthAdjust="spacingAndGlyphs">F3</text><text class="z" x="999" y="1546">0</text><text class="r" x="1039" y="1546">R3</text><text class="z" x="1080" y="1546">0</text><text class="c" x="1109" y="1547" textLength="22" lengthAdjust="spacingAndGlyphs">F4</text>

<text class="z" x="648" y="1492">0</text><text class="r" x="688" y="1492">SF1</text><text class="z" x="730" y="1492">0</text>
<text class="z" x="1322" y="1492">0</text><text class="r" x="1390" y="1492">SF2</text><text class="z" x="1457" y="1492">0</text>
<text class="z" x="487" y="1599">0</text><text class="r" x="526" y="1599">T5</text><text class="z" x="567" y="1599">0</text>
<text class="z" x="810" y="1599">0</text><text class="r" x="850" y="1599">T2</text><text class="z" x="891" y="1599">0</text>
<text class="z" x="1188" y="1599">0</text><text class="r" x="1228" y="1599">T3</text><text class="z" x="1269" y="1599">0</text>
<text class="z" x="1511" y="1599">0</text><text class="r" x="1552" y="1599">T4</text><text class="z" x="1592" y="1599">0</text>
<text class="z" x="567" y="1677">0</text><text class="r" x="607" y="1677">T1</text><text class="z" x="648" y="1677">0</text>

<text class="c" x="508" y="1968" textLength="26" lengthAdjust="spacingAndGlyphs">R1</text><text class="c" x="867" y="1968" textLength="25" lengthAdjust="spacingAndGlyphs">R2</text>
<text class="c" x="1210" y="1968" textLength="25" lengthAdjust="spacingAndGlyphs">R3</text><text class="c" x="1568" y="1968" textLength="24" lengthAdjust="spacingAndGlyphs">R4</text>
<text class="z" x="648" y="1967">0</text><text class="r" x="688" y="1967">RF1</text><text class="z" x="729" y="1967">0</text>
<text class="z" x="1350" y="1967">0</text><text class="r" x="1390" y="1967">RF2</text><text class="z" x="1431" y="1967">0</text>
<text class="j" x="1041" y="1995" textLength="105" lengthAdjust="spacingAndGlyphs">7位決定戦</text>
<text class="c" x="969" y="2021" textLength="23" lengthAdjust="spacingAndGlyphs">F7</text><text class="z" x="999" y="2020">0</text><text class="r" x="1039" y="2020">R7</text><text class="z" x="1080" y="2020">0</text><text class="c" x="1109" y="2021" textLength="22" lengthAdjust="spacingAndGlyphs">F8</text>
<text class="c" x="672" y="2048" textLength="22" lengthAdjust="spacingAndGlyphs">F5</text><text class="c" x="1406" y="2048" textLength="23" lengthAdjust="spacingAndGlyphs">F6</text>
<text class="j" x="1041" y="2127" textLength="105" lengthAdjust="spacingAndGlyphs">5位決定戦</text>
<text class="z" x="999" y="2153">0</text><text class="r" x="1039" y="2153">R5</text><text class="z" x="1080" y="2153">0</text>
</svg>
</body></html>
